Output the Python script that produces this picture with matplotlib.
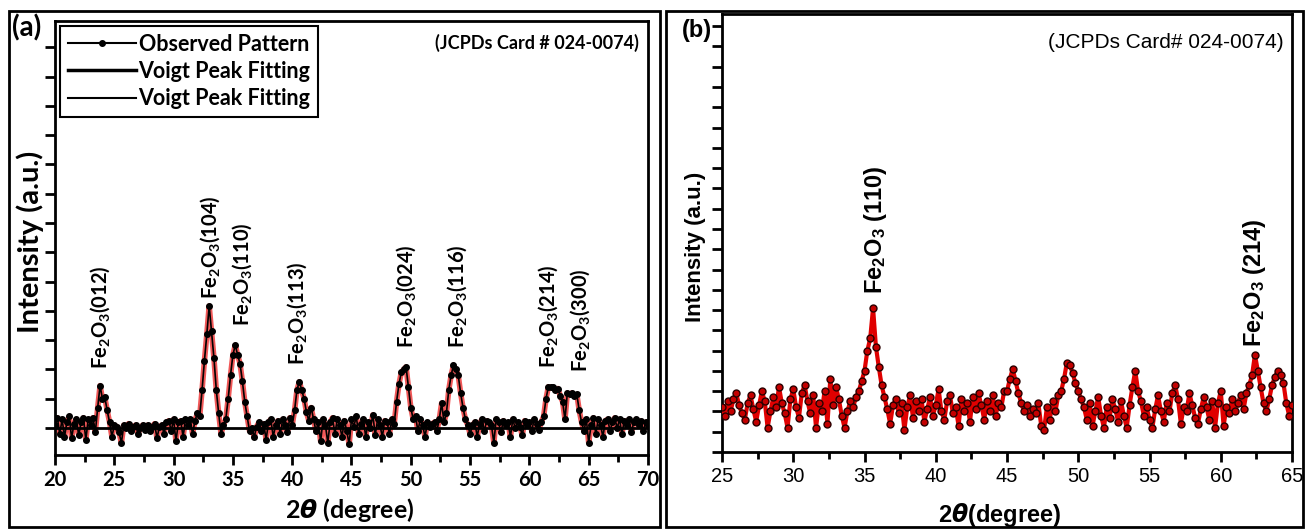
import numpy as np
import matplotlib
matplotlib.use("Agg")
import matplotlib.pyplot as plt
from matplotlib.lines import Line2D
from matplotlib.patches import Rectangle

plt.rcParams["mathtext.default"] = "regular"
plt.rcParams["mathtext.fontset"] = "custom"
plt.rcParams["mathtext.it"] = "DejaVu Sans:italic:bold"
plt.rcParams["mathtext.rm"] = "DejaVu Sans:bold"

# ---- panel (a): observed pattern, 20-70 deg, step 0.2 ----
two_theta_a = np.round(np.arange(20.0, 70.01, 0.2), 1)
intensity_a = [
    0.1, 0.35, -0.2, 0.3, -0.3, 0.2, 0.4, -0.35, 0.15, 0.3,       # 20
    -0.25, 0.2, 0.35, -0.4, 0.3, 0.1, 0.35, -0.15, 0.7, 1.45,     # 22
    1.0, 1.05, 0.6, 0.2, -0.3, 0.1, 0.05, -0.15, -0.5, 0.1,       # 24
    0.0, 0.15, -0.1, 0.05, 0.1, -0.2, 0.0, 0.1, -0.05, 0.1,       # 26
    -0.1, 0.05, 0.15, -0.35, 0.05, 0.1, -0.2, 0.2, 0.25, -0.1,    # 28
    0.3, -0.45, 0.2, 0.25, -0.3, 0.3, 0.1, 0.3, -0.2, 0.25,       # 30
    0.5, 0.4, 1.3, 2.3, 3.2, 4.17, 3.3, 2.4, 1.3, 0.5,            # 32
    -0.2, 0.1, 0.3, 1.0, 1.8, 2.5, 2.83, 2.5, 2.2, 1.6,           # 34
    0.9, 0.4, -0.1, 0.0, -0.3, 0.05, 0.2, -0.1, 0.15, -0.4,       # 36
    0.2, 0.3, -0.3, 0.1, 0.25, -0.2, 0.3, 0.1, -0.15, 0.35,       # 38
    0.1, 0.6, 1.3, 1.58, 1.3, 1.0, 0.55, 0.25, 0.7, 0.3,          # 40
    -0.1, 0.2, -0.45, 0.3, 0.1, -0.5, 0.2, 0.35, -0.2, 0.3,       # 42
    0.1, -0.3, 0.25, -0.1, -0.55, 0.3, 0.05, 0.4, -0.2, 0.15,     # 44
    0.3, -0.3, 0.2, 0.0, 0.45, -0.25, 0.3, 0.1, -0.3, 0.25,       # 46
    0.2, -0.2, 0.3, 0.15, 0.9, 1.5, 1.9, 2.0, 2.09, 1.4,          # 48
    0.7, 0.3, 0.4, -0.1, 0.3, 0.1, -0.3, 0.2, 0.05, 0.15,         # 50
    0.2, -0.1, 0.3, 0.85, 0.2, 0.5, 1.3, 1.8, 2.15, 2.0,          # 52
    1.8, 1.2, 0.7, 0.3, 0.1, -0.2, 0.1, 0.2, -0.3, 0.15,          # 54
    0.3, -0.1, 0.25, 0.2, 0.1, -0.5, 0.3, 0.2, -0.15, 0.25,       # 56
    0.1, 0.2, -0.3, 0.3, 0.0, 0.2, 0.05, -0.25, 0.25, 0.1,        # 58
    0.2, -0.1, 0.3, 0.15, -0.05, 0.2, 0.4, 1.0, 1.41, 1.4,        # 60
    1.4, 1.3, 1.35, 1.1, 0.9, 0.3, 1.2, 1.15, 1.2, 1.1,           # 62
    1.15, 0.6, 0.2, -0.1, 0.3, -0.5, 0.1, 0.35, -0.2, 0.3,        # 64
    0.1, -0.3, 0.25, 0.3, -0.1, 0.2, 0.35, 0.0, 0.3, -0.2,        # 66
    0.25, 0.1, 0.3, -0.15, 0.2, 0.3, 0.1, 0.25, -0.1, 0.2,        # 68
    0.1,                                                          # 70
]
peak_labels_a = ["(012)", "(104)", "(110)", "(113)", "(024)", "(116)", "(214)", "(300)"]
peak_x_a = [23.8, 33.1, 35.8, 40.4, 49.6, 53.9, 61.6, 64.3]
peak_y_a = [2.0, 4.4, 3.5, 2.15, 2.75, 2.75, 2.05, 1.9]

# ---- panel (b): 25-65 deg, step 0.2 ----
two_theta_b = np.round(np.arange(25.0, 65.01, 0.2), 1)
intensity_b = [
    2.2, 1.8, 2.5, 2.0, 2.6, 2.9, 2.3, 1.9, 1.6, 2.4,   # 25
    2.8, 2.1, 1.5, 2.3, 3.0, 2.5, 1.2, 2.0, 2.7, 2.2,   # 27
    3.2, 2.4, 1.9, 1.2, 2.6, 3.1, 2.2, 1.7, 2.9, 3.3,   # 29
    2.5, 1.9, 2.8, 1.2, 2.4, 2.0, 3.0, 1.4, 3.6, 2.3,   # 31
    3.2, 2.6, 1.8, 1.2, 2.0, 2.5, 2.2, 2.7, 3.0, 3.5,   # 33
    4.0, 5.0, 5.6, 7.1, 5.2, 4.2, 3.3, 2.7, 2.1, 1.4,   # 35
    2.3, 2.6, 1.9, 2.4, 1.1, 2.2, 2.8, 1.7, 2.5, 2.0,   # 37
    2.6, 1.5, 2.1, 2.7, 1.8, 2.3, 3.1, 2.0, 1.6, 2.5,   # 39
    2.8, 1.9, 2.2, 1.3, 2.6, 2.0, 2.4, 1.5, 2.7, 2.1,   # 41
    2.9, 2.3, 1.6, 2.5, 2.0, 2.8, 1.8, 2.4, 2.2, 3.0,   # 43
    3.0, 3.6, 4.1, 3.5, 2.9, 2.4, 2.0, 2.3, 1.8, 2.1,   # 45
    1.9, 2.4, 1.3, 1.1, 2.2, 1.6, 2.5, 2.0, 2.8, 3.0,   # 47
    3.6, 4.4, 4.3, 3.9, 3.4, 3.0, 2.6, 2.2, 1.6, 2.4,   # 49
    1.3, 2.0, 2.7, 1.8, 1.2, 2.2, 1.7, 2.6, 2.1, 1.5,   # 51
    2.5, 1.8, 1.2, 2.3, 3.2, 4.0, 3.0, 2.5, 1.8, 2.2,   # 53
    1.6, 1.2, 2.1, 2.8, 2.0, 1.5, 2.4, 2.0, 2.9, 3.3,   # 55
    2.6, 1.4, 2.2, 2.0, 2.9, 2.3, 1.7, 1.4, 2.1, 2.7,   # 57
    2.2, 1.6, 2.5, 1.2, 2.4, 3.0, 1.3, 2.2, 1.9, 2.6,   # 59
    2.0, 2.4, 2.8, 2.1, 2.9, 3.3, 3.8, 4.8, 4.0, 3.2,   # 61
    2.4, 2.0, 2.6, 3.3, 3.7, 4.0, 3.8, 3.4, 2.4, 1.8,   # 63
    2.3,                                                # 65
]
peak_labels_b = ["(110)", "(214)"]
peak_x_b = [35.8, 62.4]
peak_y_b = [7.8, 5.2]

W, H = 1306, 530
fig = plt.figure(figsize=(W / 100, H / 100), dpi=100)


def px_axes(l, t, r, b):
    return fig.add_axes([l / W, 1 - b / H, (r - l) / W, (b - t) / H])


# frames around the two panels
for (l, t, r, b) in [(9, 11, 660, 527), (666, 11, 1303, 527)]:
    fig.patches.append(Rectangle((l / W, 1 - b / H), (r - l) / W, (b - t) / H,
                                 transform=fig.transFigure, fill=False,
                                 edgecolor="black", lw=2))

# ---------------- panel (a) ----------------
fa = "Lato"
ax1 = px_axes(55, 21, 648, 455)
ax1.plot(two_theta_a, intensity_a, color="#ee3b3b", lw=4, alpha=0.85, zorder=2)
ax1.axhline(0, color="black", lw=2, zorder=2.5)
ax1.plot(two_theta_a, intensity_a, color="black", lw=1.2, marker="o", ms=4, zorder=3)
ax1.set_xlim(20, 70)
ax1.set_ylim(-0.92, 13.9)
ax1.set_xticks(np.arange(20, 71, 5))
ax1.set_xticks(np.arange(22.5, 70, 5), minor=True)
ax1.set_yticks(np.arange(0, 14, 1))
ax1.set_yticklabels([])
ax1.tick_params(axis="both", which="major", direction="out", length=7, width=2)
ax1.tick_params(axis="x", which="minor", direction="out", length=5, width=2)
for lab in ax1.get_xticklabels():
    lab.set_fontfamily(fa)
    lab.set_fontweight("bold")
    lab.set_fontsize(14.5)
for sp in ax1.spines.values():
    sp.set_linewidth(2)
ax1.set_xlabel("2$\\mathit{\\theta}$ (degree)", family=fa, fontsize=18, fontweight="bold")
ax1.xaxis.set_label_coords(0.497, -0.127)
ax1.xaxis.label.set_va("center")
ax1.set_ylabel("Intensity (a.u.)", family=fa, fontsize=21, fontweight="bold")
ax1.yaxis.set_label_coords(-0.042, 0.49)
ax1.yaxis.label.set_va("center")

for lab, x, y in zip(peak_labels_a, peak_x_a, peak_y_a):
    ax1.text(x, y, "Fe$_2$O$_3$" + lab, rotation=90, ha="center", va="bottom",
             family=fa, fontsize=14.5, fontweight="bold")

ax1.text(0.985, 0.95, "(JCPDs Card # 024-0074)", transform=ax1.transAxes,
         ha="right", va="center", family=fa, fontsize=13, fontweight="bold")
fig.text(27 / W, 1 - 28 / H, "(a)", ha="center", va="center", family=fa,
         fontsize=20, fontweight="bold")

handles = [
    Line2D([], [], color="black", lw=1.5, marker="o", ms=4),
    Line2D([], [], color="black", lw=2.5),
    Line2D([], [], color="black", lw=1.5),
]
leg = ax1.legend(handles, ["Observed Pattern", "Voigt Peak Fitting", "Voigt Peak Fitting"],
                 loc="upper left", bbox_to_anchor=(0.0084, 0.9885), borderaxespad=0,
                 fancybox=False, framealpha=1, edgecolor="black", handlelength=3.2,
                 handletextpad=0.1, labelspacing=0.3, borderpad=0.35,
                 prop={"family": fa, "weight": "bold", "size": 15.5})
leg.get_frame().set_linewidth(1.5)

# ---------------- panel (b) ----------------
fb = "Liberation Sans"
ax2 = px_axes(722, 14, 1292, 452)
ax2.plot(two_theta_b, intensity_b, color="#e00000", lw=3, marker="o", ms=5,
         mfc="#c40000", mec="#2a0000", mew=1, zorder=3)
ax2.set_xlim(25, 65)
ax2.set_ylim(0, 21.6)
ax2.set_xticks(np.arange(25, 66, 5))
ax2.set_xticks(np.arange(27.5, 65, 5), minor=True)
ax2.set_yticks(np.arange(0, 22, 1))
ax2.set_yticklabels([])
ax2.tick_params(axis="both", which="major", direction="out", length=7, width=2)
ax2.tick_params(axis="x", which="minor", direction="out", length=5, width=2)
for lab in ax2.get_xticklabels():
    lab.set_fontfamily(fb)
    lab.set_fontsize(14.5)
for sp in ax2.spines.values():
    sp.set_linewidth(2)
ax2.set_xlabel("2$\\mathit{\\theta}$(degree)", family=fb, fontsize=17, fontweight="bold")
ax2.xaxis.set_label_coords(0.488, -0.144)
ax2.xaxis.label.set_va("center")
ax2.set_ylabel("Intensity (a.u.)", family=fb, fontsize=16, fontweight="bold")
ax2.yaxis.set_label_coords(-0.046, 0.468)
ax2.yaxis.label.set_va("center")

for lab, x, y in zip(peak_labels_b, peak_x_b, peak_y_b):
    ax2.text(x, y, "Fe$_2$O$_3$ " + lab, rotation=90, ha="center", va="bottom",
             family=fb, fontsize=17, fontweight="bold")

ax2.text(0.985, 0.935, "(JCPDs Card# 024-0074)", transform=ax2.transAxes,
         ha="right", va="center", family=fb, fontsize=15)
fig.text(697 / W, 1 - 31 / H, "(b)", ha="center", va="center", family=fb,
         fontsize=17, fontweight="bold")

fig.savefig("out.png", dpi=100)
